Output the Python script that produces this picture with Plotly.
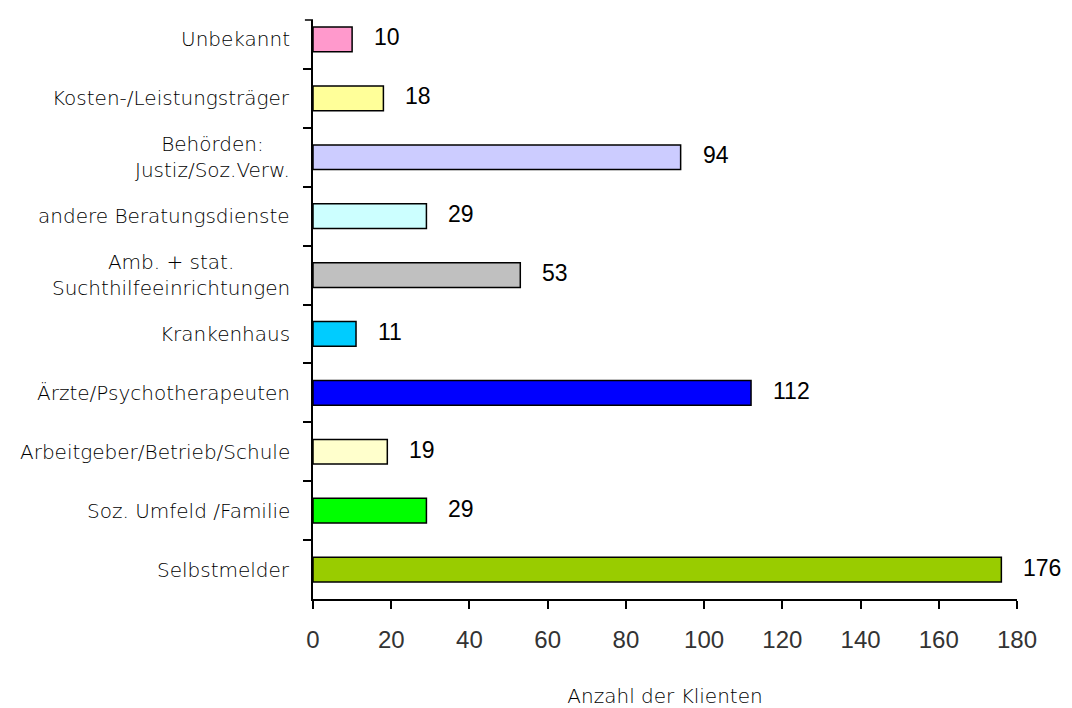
import plotly.graph_objects as go

categories = [
    "Unbekannt",
    "Kosten-/Leistungsträger",
    "Behörden:<br>Justiz/Soz.Verw.",
    "andere Beratungsdienste",
    "Amb. + stat.<br>Suchthilfeeinrichtungen",
    "Krankenhaus",
    "Ärzte/Psychotherapeuten",
    "Arbeitgeber/Betrieb/Schule",
    "Soz. Umfeld /Familie",
    "Selbstmelder",
]
values = [10, 18, 94, 29, 53, 11, 112, 19, 29, 176]
colors = ["#FF99CC", "#FFFF99", "#CCCCFF", "#CCFFFF", "#C0C0C0",
          "#00CCFF", "#0000FF", "#FFFFCC", "#00FF00", "#99CC00"]
x_ticks = [0, 20, 40, 60, 80, 100, 120, 140, 160, 180]
x_title = "Anzahl der Klienten"

label_font = dict(family="DejaVu Sans, sans-serif", size=20, color="#000000", weight=300)
value_font = dict(family="Liberation Sans, Arial, sans-serif", size=23, color="#000000")

fig = go.Figure()
fig.add_trace(go.Bar(
    y=categories, x=values, orientation="h",
    marker=dict(color=colors, line=dict(color="#000000", width=1.5)),
    width=0.42, hoverinfo="x+y", showlegend=False,
))

annotations = []
for c, v in zip(categories, values):
    annotations.append(dict(x=0, xref="paper", y=c, yref="y", text=c,
                            xanchor="right", yanchor="middle", align="center",
                            xshift=-21, showarrow=False, font=label_font))
    annotations.append(dict(x=v, xref="x", y=c, yref="y", text=str(v),
                            xanchor="left", yanchor="middle", xshift=20, yshift=2,
                            showarrow=False, font=value_font))

fig.update_layout(
    width=1072, height=708,
    margin=dict(l=313, r=55, t=20, b=109),
    paper_bgcolor="white", plot_bgcolor="white",
    bargap=0.58,
    annotations=annotations,
    shapes=[dict(type="line", xref="paper", yref="paper", x0=-0.0115, x1=0, y0=1, y1=1,
                 line=dict(color="#000000", width=1.5))],
    xaxis=dict(
        range=[0, 180], tickvals=x_ticks, ticks="outside", ticklen=8, tickwidth=1.5,
        tickcolor="#000000", showline=True, linecolor="#000000", linewidth=1.5,
        showgrid=False, zeroline=False, ticklabelstandoff=10, automargin=False,
        tickfont=dict(family="Liberation Sans, Arial, sans-serif", size=24, color="#333333"),
        title=dict(text=x_title, standoff=42,
                   font=dict(family="DejaVu Sans, sans-serif", size=20, color="#000000", weight=300)),
    ),
    yaxis=dict(
        type="category", categoryorder="array", categoryarray=categories,
        range=[9.5, -0.5 + 10 / 58.9], ticks="outside", tickson="boundaries",
        ticklen=8, tickwidth=1.5, tickcolor="#000000", showticklabels=False,
        showline=True, linecolor="#000000", linewidth=1.5, showgrid=False, automargin=False,
    ),
)

fig.write_html("out.html")
